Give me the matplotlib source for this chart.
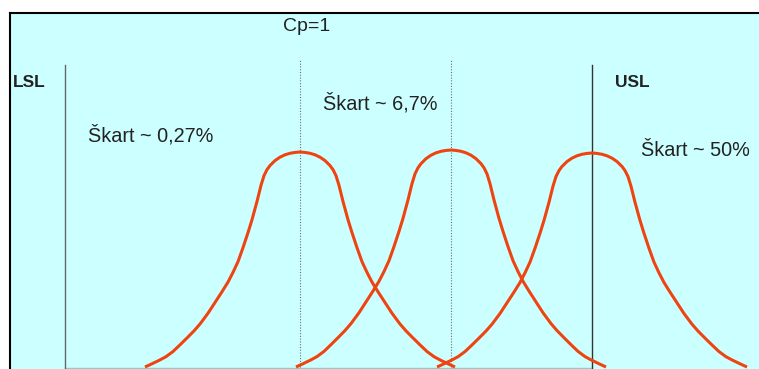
import numpy as np
from matplotlib import pyplot as plt

# positions are in picture units: x from the left edge, y = height above the base line
means = [300, 451, 592]
peaks = [215, 217, 214]

# half profile of the bell (distance from mean, share of peak)
profile_d = [0, 5, 10, 15, 20, 25, 30, 33, 36, 39, 43, 48, 52, 57, 62, 67, 72, 78,
             85, 92, 100, 106, 113, 120, 127, 134, 140, 148, 155]
profile_r = [1.0, 0.998, 0.994, 0.987, 0.976, 0.96, 0.937, 0.918, 0.89, 0.845,
             0.77, 0.685, 0.625, 0.555, 0.49, 0.44, 0.395, 0.35, 0.30, 0.25,
             0.20, 0.168, 0.135, 0.103, 0.072, 0.048, 0.033, 0.015, 0.0]

lsl_x = 65
usl_x = 592
limit_top = 302
mean_lines = [300, 451]
mean_top = [307, 308]

labels = ["Škart ~ 0,27%", "Škart ~ 6,7%", "Škart ~ 50%"]
label_x = [88, 323, 641]
label_y = [225, 257, 211]

CURVE = "#EE4411"
BG = "#CCFFFF"
TXT = "#222222"

plt.rcParams["font.family"] = ["Liberation Sans", "DejaVu Sans"]

fig = plt.figure(figsize=(7.59, 3.69), dpi=100)
ax = fig.add_axes([10/759, 0, 749/759, 356/369])
ax.set_facecolor(BG)
ax.set_xlim(10, 759)
ax.set_ylim(-2, 354)
for s in ["right", "bottom"]:
  ax.spines[s].set_visible(False)
for s in ["top", "left"]:
  ax.spines[s].set_linewidth(1.5)
ax.set_xticks([])
ax.set_yticks([])

d = np.array(profile_d, dtype=float)
r = np.array(profile_r, dtype=float)
half_x = np.concatenate([-d[::-1], d[1:]])
half_y = np.concatenate([r[::-1], r[1:]])

# base line between the limits
ax.plot([lsl_x, usl_x], [-1, -1], color="#9CC6C6", lw=1, zorder=1)

ax.plot([lsl_x, lsl_x], [-2, limit_top], color="#666666", lw=1.0, zorder=2)
ax.plot([usl_x, usl_x], [-2, limit_top], color="#333333", lw=1.0, zorder=2)
for mx, top in zip(mean_lines, mean_top):
  ax.plot([mx, mx], [0, top], color="#707070", lw=0.8, ls=(0, (1, 1.5)), zorder=2)

for m, p in zip(means, peaks):
  ax.plot(m + half_x, p*half_y, color=CURVE, lw=2.2, solid_joinstyle="round",
          solid_capstyle="butt", zorder=3)

ax.text(307, 336, "Cp=1", ha="center", va="baseline", fontsize=14, color=TXT)
ax.text(13, 280, "LSL", ha="left", va="baseline", fontsize=12.5, fontweight="bold", color=TXT)
ax.text(615, 280, "USL", ha="left", va="baseline", fontsize=12.5, fontweight="bold", color=TXT)
for t, x, y in zip(labels, label_x, label_y):
  ax.text(x, y, t, ha="left", va="baseline", fontsize=14.3, color=TXT)

fig.savefig("out.png", dpi=100, facecolor="white")
